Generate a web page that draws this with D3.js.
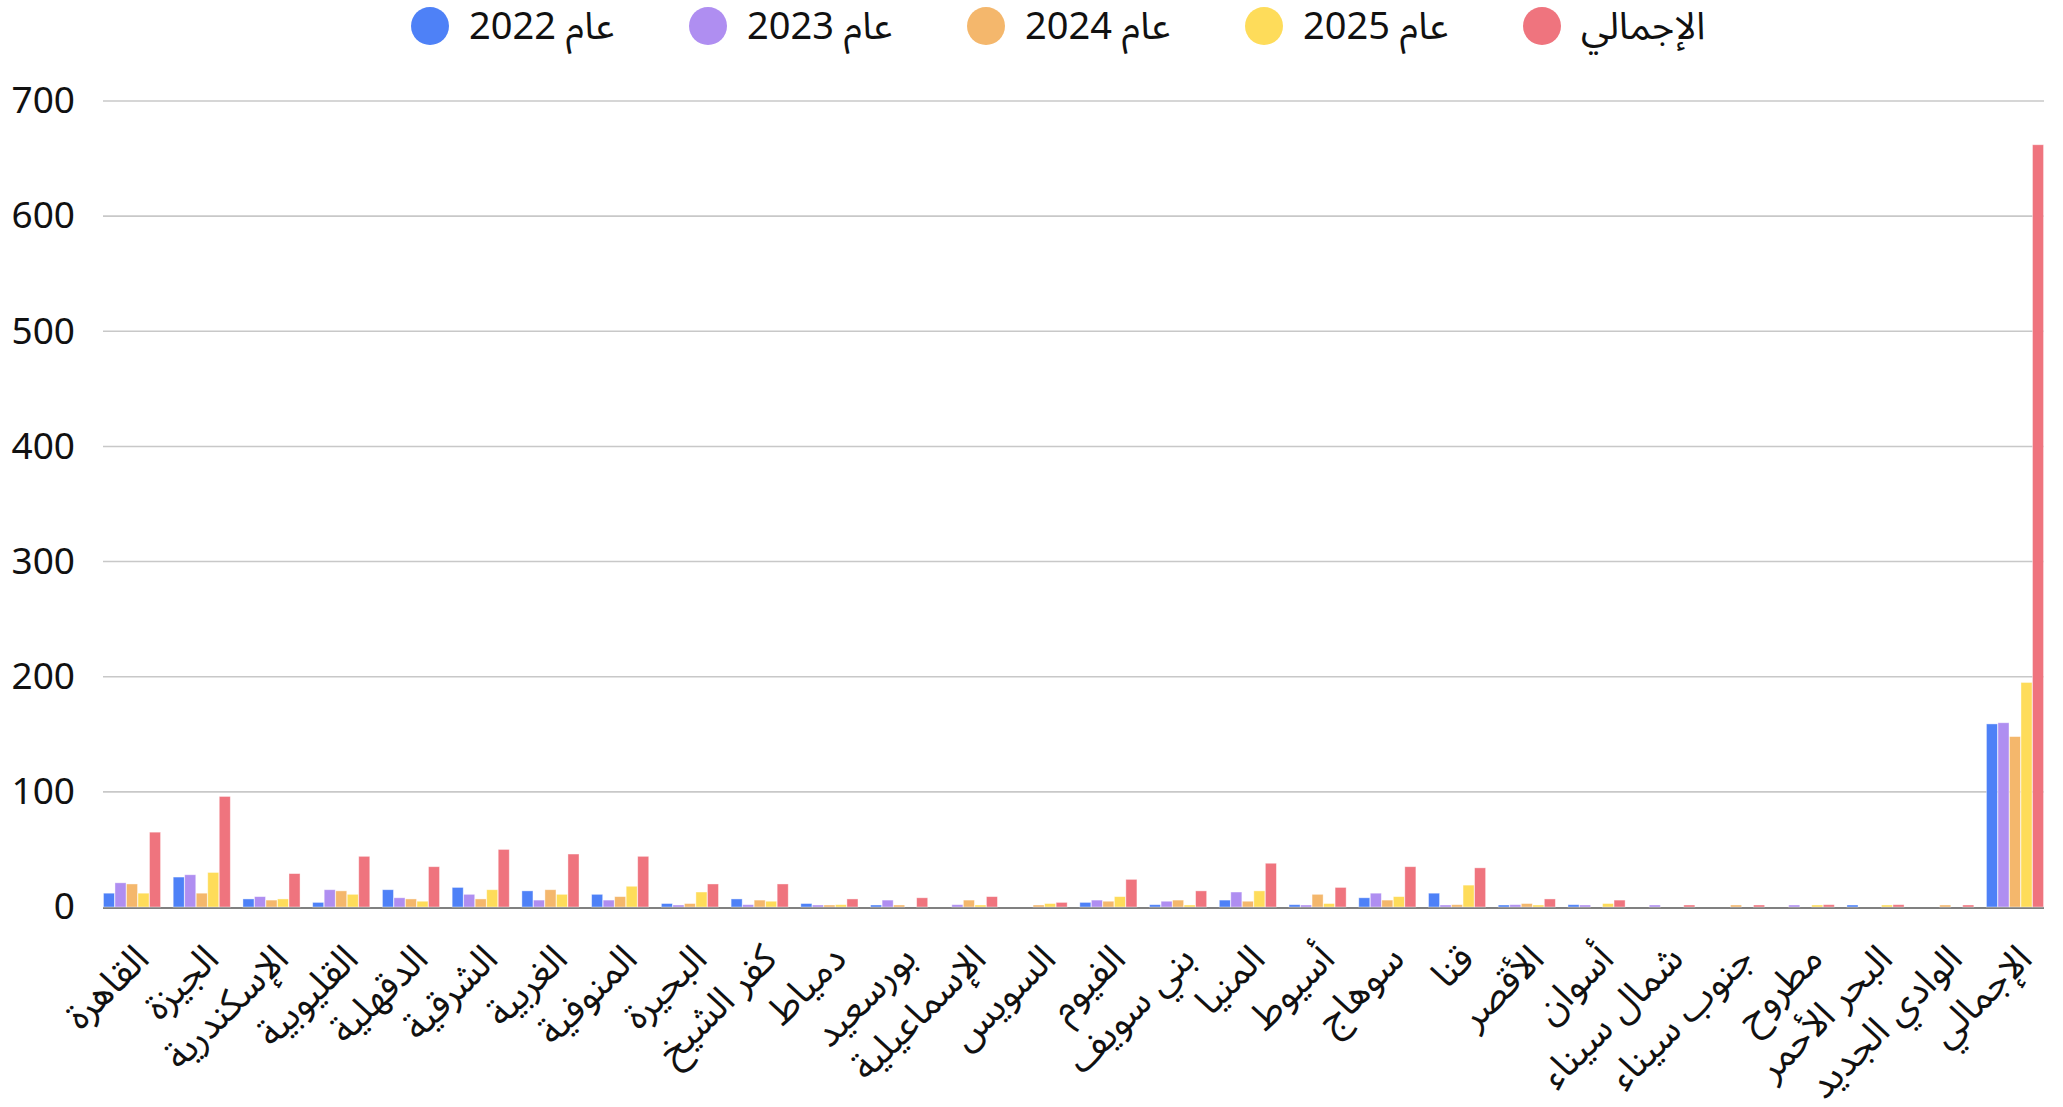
<!DOCTYPE html>
<html>
<head>
<meta charset="utf-8">
<script src="https://cdn.jsdelivr.net/npm/d3@7"></script>
<style>
  html, body { margin: 0; padding: 0; background: #fff; }
  svg text { font-family: "Noto Sans Arabic", "Noto Sans", "DejaVu Sans", sans-serif; fill: #111; }
</style>
</head>
<body>
<svg id="chart" width="2063" height="1107"></svg>
<script>
const categories = ["القاهرة","الجيزة","الإسكندرية","القليوبية","الدقهلية","الشرقية","الغربية","المنوفية","البحيرة","كفر الشيخ","دمياط","بورسعيد","الإسماعيلية","السويس","الفيوم","بني سويف","المنيا","أسيوط","سوهاج","قنا","الأقصر","أسوان","شمال سيناء","جنوب سيناء","مطروح","البحر الأحمر","الوادي الجديد","الإجمالي"];
const seriesNames = ["عام 2022","عام 2023","عام 2024","عام 2025","الإجمالي"];
const v2022 = [12,26,7,4,15,17,14,11,3,7,3,1,0,0,4,2,6,2,8,12,1,2,0,0,0,1,0,159];
const v2023 = [21,28,9,15,8,11,6,6,1,2,1,6,2,0,6,5,13,1,12,1,2,1,1,0,1,0,0,160];
const v2024 = [20,12,6,14,7,7,15,9,3,6,1,1,6,1,5,6,5,11,6,2,3,0,0,1,0,0,1,148];
const v2025 = [12,30,7,11,5,15,11,18,13,5,2,0,1,3,9,1,14,3,9,19,1,3,0,0,1,1,0,195];
const vTotal = [65,96,29,44,35,50,46,44,20,20,7,8,9,4,24,14,38,17,35,34,7,6,1,1,2,2,1,662];
const yTicks = [0,100,200,300,400,500,600,700];
const colors = ["#4E81F7","#AF8EF1","#F4B76C","#FEDC5A","#EF747E"];

const seriesValues = [v2022, v2023, v2024, v2025, vTotal];
const rows = categories.map((c, i) => ({cat: c, vals: seriesValues.map((s, k) => ({k, v: s[i]}))}));

const svg = d3.select("#chart");
const mLeft = 103, mRight = 2044, mTop = 101, mBottom = 907;

const x0 = d3.scaleBand().domain(categories).range([mLeft, mRight]).paddingInner(0.168).paddingOuter(0);
const x1 = d3.scaleBand().domain(d3.range(seriesNames.length)).range([0, x0.bandwidth()]).padding(0.04);
const y = d3.scaleLinear().domain([0, 700]).range([mBottom, mTop]);

// gridlines
svg.append("g").selectAll("line").data(yTicks.filter(t => t > 0)).join("line")
  .attr("x1", mLeft).attr("x2", mRight)
  .attr("y1", d => y(d)).attr("y2", d => y(d))
  .attr("stroke", "#c8c8c8").attr("stroke-width", 1.6);

// baseline (under the bars)
svg.append("line").attr("x1", mLeft).attr("x2", mRight).attr("y1", mBottom + 1).attr("y2", mBottom + 1)
  .attr("stroke", "#808080").attr("stroke-width", 2);

// y axis labels
const yAxis = d3.axisLeft(y).tickValues(yTicks).tickSize(0).tickPadding(28);
const yg = svg.append("g").attr("transform", `translate(${mLeft},0)`).call(yAxis);
yg.select(".domain").remove();
yg.selectAll("text").style("font-size", "37px").attr("fill", "#111")
  .style("font-family", "'Noto Sans', 'DejaVu Sans', sans-serif");

// bars
const groups = svg.append("g").selectAll("g").data(rows).join("g")
  .attr("transform", d => `translate(${x0(d.cat)},0)`);
groups.selectAll("rect").data(d => d.vals).join("rect")
  .attr("x", d => x1(d.k))
  .attr("width", x1.bandwidth())
  .attr("y", d => d.v > 0 ? Math.min(y(d.v), mBottom - 2) : mBottom)
  .attr("height", d => d.v > 0 ? Math.max(mBottom - y(d.v), 2) : 0)
  .attr("fill", d => colors[d.k])
  .attr("stroke", "#fff").attr("stroke-opacity", 0.5).attr("stroke-width", 0.8);

// x labels
const xg = svg.append("g").attr("transform", `translate(0,${mBottom})`)
  .call(d3.axisBottom(x0).tickSize(0).tickPadding(0));
xg.select(".domain").remove();
xg.selectAll("text")
  .attr("text-anchor", "end")
  .attr("y", 0).attr("dy", 0).attr("x", 0)
  .attr("transform", `translate(${19},54) rotate(-45)`)
  .style("font-size", "38px").attr("fill", "#111");

// legend
const legend = svg.append("g").selectAll("g").data(seriesNames).join("g")
  .attr("transform", (d, i) => `translate(${430 + i * 278},26)`);
legend.append("circle").attr("r", 19).attr("fill", (d, i) => colors[i]);
legend.append("text").attr("x", 39).attr("y", 0).attr("dy", "0.35em")
  .style("font-size", "38px").text(d => d);
</script>
</body>
</html>
